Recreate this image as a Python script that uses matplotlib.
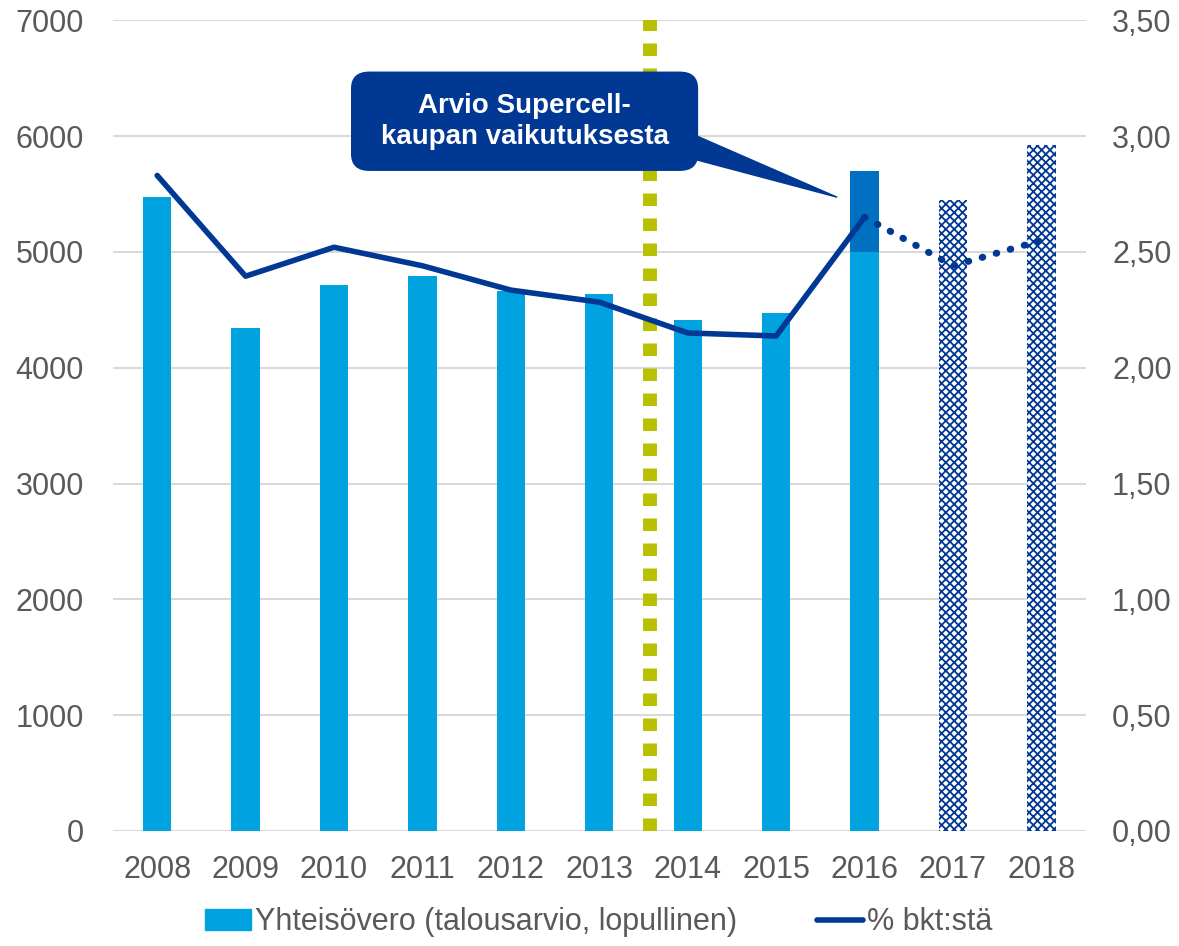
import matplotlib.pyplot as plt
from matplotlib.patches import FancyBboxPatch, Polygon
from matplotlib.lines import Line2D
from matplotlib.patches import Patch

plt.rcParams['font.family'] = ['Liberation Sans', 'DejaVu Sans']
plt.rcParams['hatch.linewidth'] = 1.3

years = ['2008', '2009', '2010', '2011', '2012', '2013', '2014', '2015', '2016', '2017', '2018']
vero = [5470, 4340, 4710, 4790, 4660, 4635, 4410, 4470, 5000, 5445, 5920]
supercell = [0, 0, 0, 0, 0, 0, 0, 0, 700, 0, 0]
ennuste = [False] * 9 + [True, True]
osuus = [2.83, 2.395, 2.52, 2.44, 2.335, 2.283, 2.15, 2.137, 2.65, 2.44, 2.55]

vaalea = '#00A3E0'
tumma = '#003893'
grey = '#595959'

fig = plt.figure(figsize=(11.79, 9.46), dpi=100)
ax = fig.add_axes([0.0958, 0.1216, 0.825, 0.857])
ax2 = ax.twinx()

x = list(range(len(years)))
w = 0.32
for i in x:
    if ennuste[i]:
        ax.bar(i, vero[i], w, color='white', edgecolor=tumma, hatch='xxxx', linewidth=0, zorder=2)
    else:
        ax.bar(i, vero[i], w, color=vaalea, zorder=2)
        if supercell[i]:
            ax.bar(i, supercell[i], w, bottom=vero[i], color='#0070C0', zorder=2)

ax.set_ylim(0, 7000)
ax.set_xlim(-0.5, len(years) - 0.5)
ax.set_yticks(range(0, 7001, 1000))
ax.set_xticks(x)
ax.set_xticklabels(years)
ax.grid(axis='y', color='#D9D9D9', lw=1.5, zorder=0)
ax.set_axisbelow(True)

ax2.plot(x[:9], osuus[:9], color=tumma, lw=4, solid_capstyle='round', zorder=5)
ax2.plot(x[8:], osuus[8:], color=tumma, lw=5, linestyle=(0, (0.1, 2.0)),
         dash_capstyle='round', zorder=5)
ax2.set_ylim(0, 3.5)
ax2.set_yticks([i * 0.5 for i in range(8)])
ax2.set_yticklabels([f'{i * 0.5:.2f}'.replace('.', ',') for i in range(8)])

for a in (ax, ax2):
    for s in a.spines.values():
        s.set_visible(False)
    a.tick_params(length=0, labelsize=22, labelcolor=grey)
ax.tick_params(axis='y', pad=21)
ax.tick_params(axis='x', pad=17)
ax2.tick_params(axis='y', pad=19)

# Katkoviiva 2013/2014 välissä
ax.axvline(5.57, color='#B9C000', lw=10, linestyle=(0, (0.9, 0.9)), zorder=4)

# Puhekupla
ax.add_patch(Polygon([(5.9, 6068), (5.9, 5835), (7.69, 5472)], closed=True,
                     color=tumma, zorder=6, clip_on=False))
ax.add_patch(FancyBboxPatch((2.20, 5705), 3.91, 846,
                            boxstyle='round,pad=0,rounding_size=0.2',
                            mutation_aspect=700, color=tumma, zorder=6))
ax.text(4.155, 6128, 'Arvio Supercell-\nkaupan vaikutuksesta', color='white',
        fontsize=20, fontweight='bold', ha='center', va='center',
        linespacing=1.25, zorder=7)

handles = [Patch(color=vaalea), Line2D([], [], color=tumma, lw=4, solid_capstyle='round')]
fig.legend(handles, ['Yhteisövero (talousarvio, lopullinen)', '% bkt:stä'],
           loc='lower center', bbox_to_anchor=(0.508, -0.02), ncol=2, frameon=False,
           fontsize=22, labelcolor=grey, handlelength=1.5, handletextpad=0.15,
           columnspacing=2.6)

fig.savefig('out.png', dpi=100)
